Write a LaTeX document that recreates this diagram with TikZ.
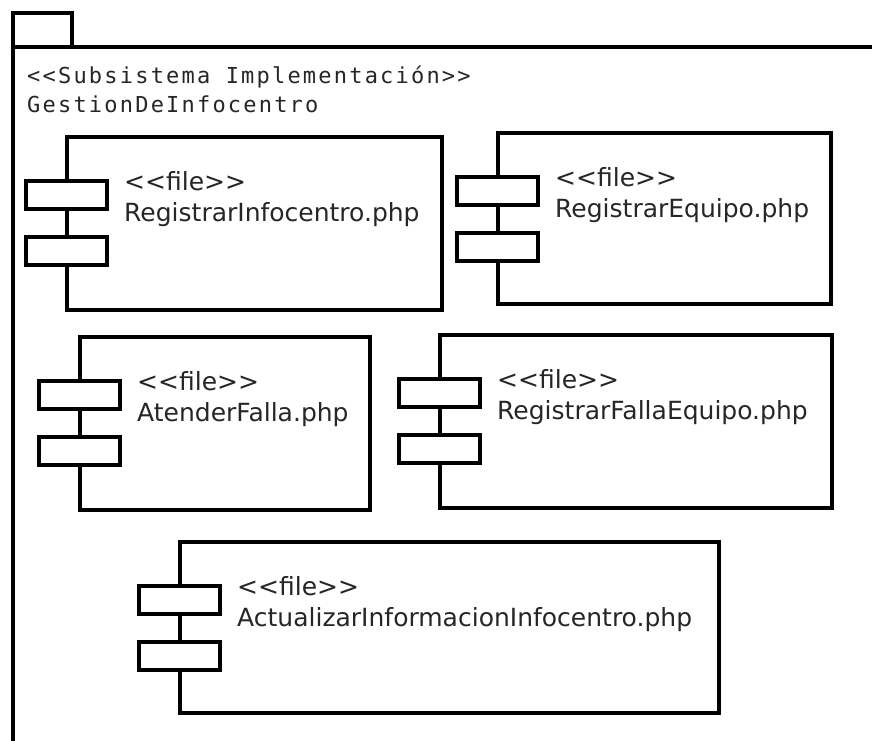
\documentclass[tikz,border=0pt]{standalone}
\usepackage{fontspec}
\setmainfont{DejaVu Sans}
\newfontfamily\headfont[LetterSpace=10]{DejaVu Sans Mono}
\usetikzlibrary{calc}

% A UML file artefact: body box, two port tabs on its left edge, stereotype and file name
\newcommand\filecomp[6]{%
  \node[comp, minimum width={(#4-#2)*1pt}, minimum height={(#5-#3)*1pt}] (#1) at (#2,#3) {};
  \node[port] (#1-pa) at ($(#1.north west)+(-0.5,58)$) {};
  \node[port] (#1-pb) at ($(#1.north west)+(-0.5,114)$) {};
  \node[lbl] (#1-st) at ($(#1.north west)+(57,53)$) {<{}<file>{}>};
  \node[lbl] (#1-nm) at ($(#1.north west)+(57,84.5)$) {#6};
}

\begin{document}
\begin{tikzpicture}[x=1pt,y=-1pt,
  pkg/.style={draw, line width=3.2pt, inner sep=0pt, outer sep=0pt, anchor=north west},
  comp/.style={draw, fill=white, line width=3.2pt, inner sep=0pt, outer sep=0pt, anchor=north west},
  port/.style={draw, fill=white, line width=3.2pt, inner sep=0pt, outer sep=0pt,
               minimum width=81pt, minimum height=28pt},
  lbl/.style={anchor=base west, inner sep=0pt, text=black!85, font=\fontsize{25}{30}\selectfont},
  head/.style={anchor=base west, inner sep=0pt, text=black!85, font=\headfont\fontsize{22}{29}\selectfont}
]
\path[use as bounding box, clip] (0,0) rectangle (872,740);
\fill[white] (0,0) rectangle (872,740);

% package frame: tab and body (body runs past the right and bottom edges)
\node[pkg, minimum width=59pt, minimum height=34pt] (tab) at (13,13) {};
\node[pkg, minimum width=900pt, minimum height=760pt] (body) at (13,47) {};

\node[head] (stereo) at (27,83) {<{}<Subsistema Implementación>{}>};
\node[head] (pkgname) at (27,112) {GestionDeInfocentro};

\filecomp{regInfo}{67}{137}{442}{310}{RegistrarInfocentro.php}
\filecomp{regEquipo}{498}{133}{831}{304}{RegistrarEquipo.php}
\filecomp{atender}{80}{337}{370}{510}{AtenderFalla.php}
\filecomp{regFalla}{440}{335}{832}{508}{RegistrarFallaEquipo.php}
\filecomp{actualizar}{180}{542}{719}{713}{ActualizarInformacionInfocentro.php}
\end{tikzpicture}
\end{document}
